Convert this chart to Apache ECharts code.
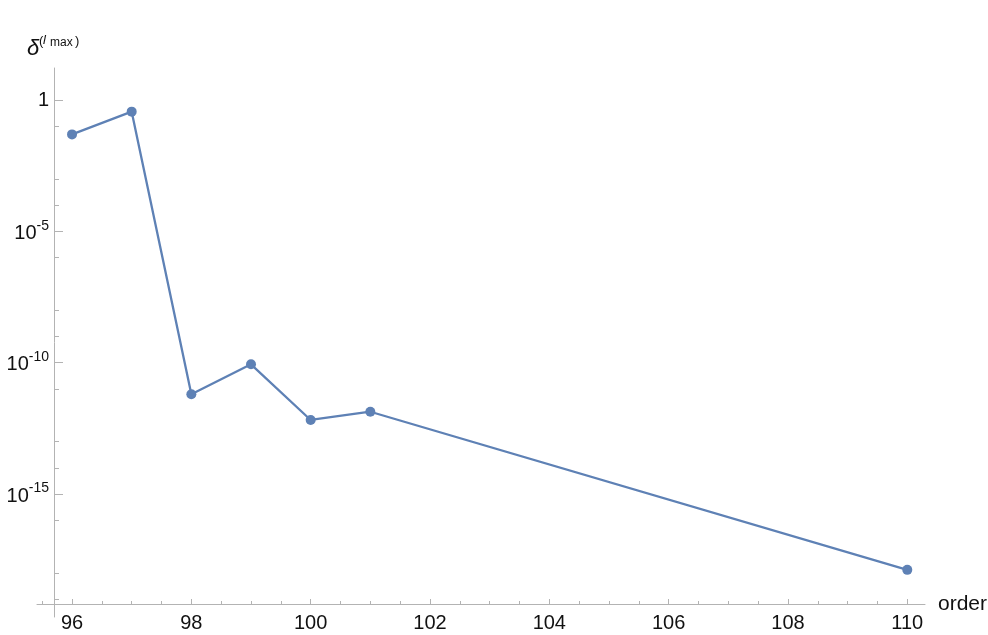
<!DOCTYPE html>
<html>
<head>
<meta charset="utf-8">
<script src="https://cdn.jsdelivr.net/npm/echarts@6/dist/echarts.min.js"></script>
<style>
html, body { margin: 0; padding: 0; background: #fff; }
#chart { width: 988px; height: 635px; }
</style>
</head>
<body>
<div id="chart"></div>
<script>
// data
var orders = [96, 97, 98, 99, 100, 101, 110];
var deltas = [0.049, 0.36, 6.3e-12, 8.7e-11, 6.6e-13, 1.36e-12, 1.3e-18];

// ticks
var xMajorTicks = [96, 98, 100, 102, 104, 106, 108, 110];
var xMinorTicks = [95.5, 96.5, 97, 97.5, 98.5, 99, 99.5, 100.5, 101, 101.5, 102.5, 103, 103.5,
	104.5, 105, 105.5, 106.5, 107, 107.5, 108.5, 109, 109.5];
var yMajorTicks = [1, 1e-5, 1e-10, 1e-15];
var yMinorTicks = [1e-1, 1e-3, 1e-4, 1e-6, 1e-8, 1e-9, 1e-11, 1e-13, 1e-14, 1e-16, 1e-18, 1e-19];

var lineColor = '#5e81b5';
var axisColor = '#b3b3b3';
var textColor = '#111';
var font = '"Liberation Sans", Arial, sans-serif';

var xMin = 95.413, xMax = 110.297;
var yMin = Math.pow(10, -19.68), yMax = Math.pow(10, 1.218);

var points = [];
for (var i = 0; i < orders.length; i++) {
	points.push([orders[i], deltas[i]]);
}

var myChart = echarts.init(document.getElementById('chart'));

var option = {
	animation: false,
	backgroundColor: '#fff',
	// keep the grid fixed, labels may sit at the edge
	grid: { left: 37, right: 63, top: 68, bottom: 18, containLabel: false, outerBoundsMode: 'none' },
	xAxis: [{
		type: 'value',
		position: 'bottom',
		min: xMin,
		max: xMax,
		offset: -13,
		name: 'order',
		nameLocation: 'end',
		nameGap: 13,
		nameTextStyle: { fontSize: 21, fontFamily: font, color: textColor, align: 'left', verticalAlign: 'middle', padding: [5, 0, 0, 0] },
		axisLine: { show: true, onZero: false, lineStyle: { color: axisColor, width: 1 } },
		axisTick: { show: true, inside: true, length: 5, customValues: xMajorTicks, lineStyle: { color: axisColor } },
		axisLabel: { show: true, margin: 9, fontSize: 20, fontFamily: font, color: textColor, customValues: xMajorTicks },
		splitLine: { show: false }
	}, {
		type: 'value',
		position: 'bottom',
		min: xMin,
		max: xMax,
		offset: -13,
		axisLine: { show: false },
		axisTick: { show: true, inside: true, length: 3, customValues: xMinorTicks, lineStyle: { color: axisColor } },
		axisLabel: { show: false },
		splitLine: { show: false }
	}],
	yAxis: [{
		type: 'log',
		position: 'left',
		min: yMin,
		max: yMax,
		offset: -17,
		axisLine: { show: true, onZero: false, lineStyle: { color: axisColor, width: 1 } },
		axisTick: { show: true, inside: true, length: 9, customValues: yMajorTicks, lineStyle: { color: axisColor } },
		axisLabel: {
			show: true,
			margin: 5,
			customValues: yMajorTicks,
			fontSize: 20,
			fontFamily: font,
			color: textColor,
			formatter: function (v) {
				var e = Math.round(Math.log10(v));
				if (e === 0) return '1';
				return '{b|10}{s|-' + (-e) + '}';
			},
			rich: {
				b: { fontSize: 20, fontFamily: font, color: textColor, padding: [4, 0, 0, 0] },
				s: { fontSize: 14, fontFamily: font, color: textColor, padding: [0, 0, 11, 0] }
			}
		},
		splitLine: { show: false }
	}, {
		type: 'log',
		position: 'left',
		min: yMin,
		max: yMax,
		offset: -17,
		axisLine: { show: false },
		axisTick: { show: true, inside: true, length: 5, customValues: yMinorTicks, lineStyle: { color: axisColor } },
		axisLabel: { show: false },
		splitLine: { show: false }
	}],
	graphic: [
		{ type: 'text', left: 27, top: 38, style: { text: '\u03b4', font: 'italic 22px ' + font, fill: textColor } },
		{ type: 'text', left: 39, top: 35, style: { text: '(', font: '13px ' + font, fill: textColor } },
		{ type: 'text', left: 43, top: 34, style: { text: 'l', font: 'italic 13px ' + font, fill: textColor } },
		{ type: 'text', left: 50, top: 37, style: { text: 'max', font: '12px ' + font, fill: textColor } },
		{ type: 'text', left: 75, top: 35, style: { text: ')', font: '13px ' + font, fill: textColor } }
	],
	series: [{
		type: 'line',
		xAxisIndex: 0,
		yAxisIndex: 0,
		data: points,
		symbol: 'circle',
		symbolSize: 10,
		showSymbol: true,
		lineStyle: { color: lineColor, width: 2.3 },
		itemStyle: { color: lineColor }
	}]
};

myChart.setOption(option);
</script>
</body>
</html>
